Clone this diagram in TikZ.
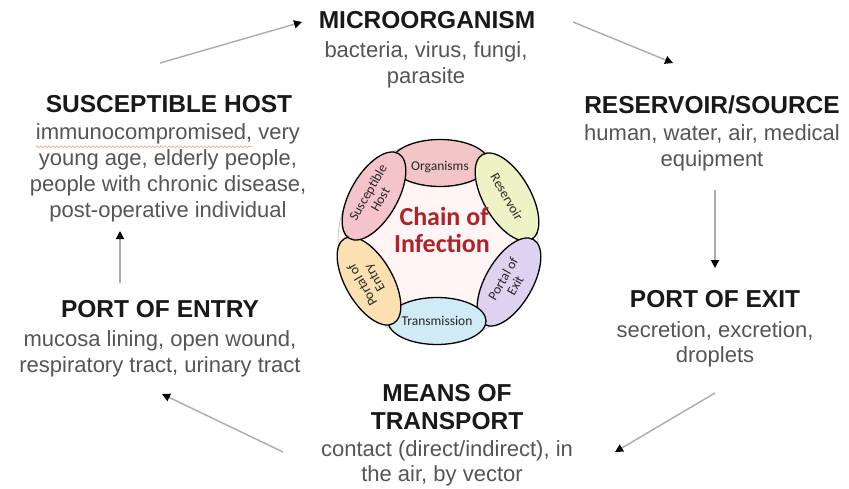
\documentclass[tikz,border=0pt]{standalone}
\usepackage{fontspec}
\setmainfont{Liberation Sans}
\newfontfamily\calfont{Carlito}
\usetikzlibrary{arrows.meta,shapes.geometric,decorations.pathmorphing}
\definecolor{bodygray}{HTML}{555555}
\definecolor{chainred}{HTML}{B0222A}
\definecolor{cOrg}{HTML}{F2C6C6}
\definecolor{cRes}{HTML}{EEF3C6}
\definecolor{cExit}{HTML}{DDD2EF}
\definecolor{cTrans}{HTML}{D0EAF6}
\definecolor{cEntry}{HTML}{FBE1B2}
\definecolor{cHost}{HTML}{F4C4CA}
\begin{document}
\begin{tikzpicture}[x=1pt,y=-1pt,
  ttl/.style={font=\fontsize{24.5}{28}\selectfont\bfseries, text=black!90, anchor=base, inner sep=0pt},
  bdy/.style={font=\fontsize{22}{26}\selectfont, text=bodygray, anchor=base, inner sep=0pt},
  arr/.style={draw=gray!65, line width=1.4pt, -{Triangle[length=8pt,width=8pt,color=black]}},
  link/.style={ellipse, draw=black, line width=1.3pt, minimum width=98pt, minimum height=47pt, inner sep=0pt},
  lbl/.style={font=\calfont\fontsize{13.5}{14}\selectfont, align=center, text=black!85, inner sep=0pt},
  chain/.style={font=\calfont\bfseries\fontsize{26}{28}\selectfont, text=chainred, anchor=base, inner sep=0pt}
]
\useasboundingbox (0,0) rectangle (849,488);
\fill[white] (0,0) rectangle (849,488);

% central ring
\node[circle, minimum size=200pt, fill=red!4, draw=gray!55, line width=0.6pt] (ring) at (438,241) {};
\node[link, fill=cOrg] (org) at (440,163) {};
\node[link, fill=cRes, rotate=-60] (res) at (507,197) {};
\node[link, fill=cExit, rotate=60] (exit) at (509,282) {};
\node[link, fill=cTrans] (trans) at (437,321) {};
\node[link, fill=cEntry, rotate=120] (entry) at (369,281) {};
\node[link, fill=cHost, rotate=60] (host) at (374,196) {};
\node[lbl] (orgL) at ([yshift=-4pt]org.center) {Organisms};
\node[lbl, rotate=-60] (resL) at (res.center) {Reservoir};
\node[lbl, rotate=60] (exitL) at (exit.center) {Portal of\\Exit};
\node[lbl] (transL) at (trans.center) {Transmission};
\node[lbl, rotate=120] (entryL) at (entry.center) {Portal of\\Entry};
\node[lbl, rotate=60] (hostL) at (host.center) {Susceptible\\Host};
\node[chain] (ch1) at (444,225) {Chain of};
\node[chain] (ch2) at (442,252) {Infection};

% MICROORGANISM
\node[ttl] (micT) at (427,28) {MICROORGANISM};
\node[bdy] (mic1) at (426,57) {bacteria, virus, fungi,};
\node[bdy] (mic2) at (426,83) {parasite};

% SUSCEPTIBLE HOST
\node[ttl] (shT) at (169,112) {SUSCEPTIBLE HOST};
\node[bdy] (sh1) at (168,139) {immunocompromised, very};
\node[bdy] (sh2) at (168,165) {young age, elderly people,};
\node[bdy] (sh3) at (168,191) {people with chronic disease,};
\node[bdy] (sh4) at (168,217) {post-operative individual};
\draw[red!70, opacity=0.6, line width=0.6pt, decorate, decoration={snake, amplitude=0.9pt, segment length=4pt}]
  (sh1.south west) ++(0,3) -- ++(216,0);

% RESERVOIR/SOURCE
\node[ttl] (resT) at (712,113) {RESERVOIR/SOURCE};
\node[bdy] (res1) at (712,140) {human, water, air, medical};
\node[bdy] (res2) at (712,166) {equipment};

% PORT OF EXIT
\node[ttl] (exT) at (715,307) {PORT OF EXIT};
\node[bdy] (ex1) at (715,337) {secretion, excretion,};
\node[bdy] (ex2) at (715,362) {droplets};

% MEANS OF TRANSPORT
\node[ttl] (mnT1) at (447,401) {MEANS OF};
\node[ttl] (mnT2) at (447,429) {TRANSPORT};
\node[bdy] (mn1) at (447,456) {contact (direct/indirect), in};
\node[bdy] (mn2) at (442,481) {the air, by vector};

% PORT OF ENTRY
\node[ttl] (enT) at (160,317) {PORT OF ENTRY};
\node[bdy] (en1) at (160,346) {mucosa lining, open wound,};
\node[bdy] (en2) at (160,372) {respiratory tract, urinary tract};

% arrows
\coordinate (a1s) at (160,63);  \coordinate (a1e) at (302,22);
\coordinate (a2s) at (573,22);  \coordinate (a2e) at (673,63);
\coordinate (a3s) at (715,190); \coordinate (a3e) at (715,268);
\coordinate (a4s) at (715,393); \coordinate (a4e) at (615,452);
\coordinate (a5s) at (283,452); \coordinate (a5e) at (162,394);
\coordinate (a6s) at (120,283); \coordinate (a6e) at (120,231);
\draw[arr] (a1s) -- (a1e);
\draw[arr] (a2s) -- (a2e);
\draw[arr] (a3s) -- (a3e);
\draw[arr] (a4s) -- (a4e);
\draw[arr] (a5s) -- (a5e);
\draw[arr] (a6s) -- (a6e);
\end{tikzpicture}
\end{document}
